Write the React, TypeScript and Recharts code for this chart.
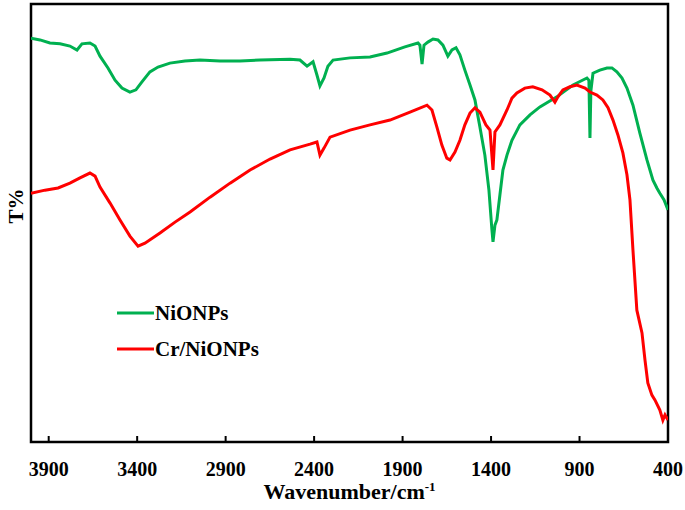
import React from "react";
import {
  LineChart,
  Line,
  XAxis,
  YAxis,
  Legend,
  ReferenceArea,
} from "recharts";

// NiONPs spectrum (wavenumber cm-1, transmittance %)
const niWavenumber = [
  4000, 3949, 3893, 3836, 3780, 3740, 3712, 3667, 3638, 3610, 3565, 3525, 3486,
  3441, 3407, 3373, 3328, 3282, 3215, 3130, 3045, 2932, 2819, 2706, 2536, 2480,
  2440, 2406, 2384, 2367, 2344, 2322, 2293, 2197, 2084, 1988, 1887, 1813, 1802,
  1790, 1779, 1757, 1728, 1700, 1672, 1644, 1621, 1598, 1576, 1548, 1519, 1491,
  1463, 1435, 1412, 1395, 1389, 1378, 1367, 1350, 1333, 1310, 1282, 1237, 1180,
  1124, 1028, 937, 858, 847, 841, 836, 824, 785, 745, 717, 689, 660, 632, 598,
  559, 519, 485, 463, 446, 423, 400,
];
const niT = [
  92.2, 91.8, 91.1, 90.9, 90.4, 89.5, 90.9, 91.1, 90.4, 88.1, 85.4, 82.6, 80.8,
  79.9, 80.4, 82.2, 84.5, 85.6, 86.5, 87.0, 87.2, 87.0, 87.0, 87.2, 87.4, 87.2,
  85.8, 86.8, 83.8, 81.3, 83.1, 85.8, 87.2, 87.7, 87.9, 88.8, 90.2, 91.1, 90.6,
  86.3, 90.6, 91.3, 92.0, 91.8, 90.6, 88.1, 89.5, 90.0, 88.4, 84.9, 81.5, 78.1,
  71.9, 65.5, 57.5, 48.4, 45.7, 49.5, 50.7, 56.4, 62.1, 65.5, 68.9, 72.4, 74.7,
  76.5, 78.8, 81.5, 83.1, 82.6, 69.4, 80.1, 84.2, 84.9, 85.4, 85.4, 84.5, 83.1,
  80.8, 76.9, 70.5, 64.4, 59.8, 58.0, 56.8, 55.3, 53.0,
];

// Cr/NiONPs spectrum
const crWavenumber = [
  4000, 3921, 3847, 3780, 3723, 3667, 3638, 3610, 3554, 3497, 3441, 3395, 3356,
  3271, 3186, 3101, 2988, 2875, 2762, 2649, 2536, 2423, 2384, 2367, 2344, 2310,
  2197, 2084, 1971, 1858, 1762, 1734, 1706, 1678, 1650, 1632, 1604, 1576, 1548,
  1519, 1491, 1463, 1429, 1406, 1389, 1378, 1350, 1310, 1282, 1254, 1209, 1164,
  1112, 1067, 1039, 1022, 994, 954, 915, 869, 841, 802, 768, 739, 711, 683, 655,
  632, 615, 598, 576, 547, 530, 514, 491, 474, 446, 429, 417, 400,
];
const crT = [
  56.8, 57.5, 58.0, 59.1, 60.3, 61.4, 60.7, 58.2, 54.6, 50.7, 47.0, 44.7, 45.4,
  47.7, 50.2, 52.5, 55.9, 59.1, 62.1, 64.6, 66.7, 68.0, 68.5, 65.5, 67.1, 69.6,
  71.2, 72.4, 73.5, 75.3, 76.9, 75.8, 71.9, 67.8, 64.8, 64.4, 66.2, 68.9, 72.4,
  75.1, 76.3, 75.3, 72.4, 71.2, 62.1, 70.8, 72.4, 75.8, 78.5, 79.7, 80.8, 81.1,
  80.4, 79.2, 77.6, 78.8, 80.4, 81.1, 81.5, 80.8, 79.9, 79.2, 78.1, 76.3, 73.5,
  70.1, 66.0, 61.0, 55.3, 43.8, 30.1, 24.9, 18.7, 13.5, 10.7, 9.6, 7.3, 5.0,
  6.2, 5.0,
];

const xTicks = [3900, 3400, 2900, 2400, 1900, 1400, 900, 400];

const niData = niWavenumber.map((wn, i) => ({ wn, t: niT[i] }));
const crData = crWavenumber.map((wn, i) => ({ wn, t: crT[i] }));

const FONT = '"Liberation Serif", "Times New Roman", serif';
const GREEN = "#00b050";
const RED = "#ff0000";

const XTick = ({ x, y, payload }: any) => (
  <g>
    <line x1={x} y1={y} x2={x} y2={y - 6} stroke="#000" strokeWidth={2} />
    <text
      x={x}
      y={y + 34}
      textAnchor="middle"
      fontFamily={FONT}
      fontWeight="bold"
      fontSize={20}
      fill="#000"
    >
      {payload.value}
    </text>
  </g>
);

const XTitle = ({ viewBox }: any) => {
  const cx = viewBox.x + viewBox.width / 2;
  return (
    <text
      x={cx}
      y={viewBox.y + 57}
      textAnchor="middle"
      fontFamily={FONT}
      fontWeight="bold"
      fontSize={22}
      fill="#000"
    >
      Wavenumber/cm
      <tspan dy={-8} fontSize={13}>
        -1
      </tspan>
    </text>
  );
};

const YTitle = ({ viewBox }: any) => {
  const x = viewBox.x + 16;
  const y = 206;
  return (
    <text
      x={x}
      y={y}
      transform={`rotate(-90, ${x}, ${y})`}
      textAnchor="middle"
      dominantBaseline="central"
      fontFamily={FONT}
      fontWeight="bold"
      fontSize={21}
      fill="#000"
    >
      T%
    </text>
  );
};

const legendItems = [
  { label: "NiONPs", color: GREEN },
  { label: "Cr/NiONPs", color: RED },
];

const LegendBox = () => (
  <div>
    {legendItems.map((item) => (
      <div
        key={item.label}
        style={{ display: "flex", alignItems: "center", height: 36 }}
      >
        <svg width={37} height={6}>
          <line x1={0} y1={3} x2={37} y2={3} stroke={item.color} strokeWidth={3} />
        </svg>
        <span
          style={{
            fontFamily: FONT,
            fontWeight: "bold",
            fontSize: 21,
            marginLeft: 1,
            color: "#000",
          }}
        >
          {item.label}
        </span>
      </div>
    ))}
  </div>
);

export default function App() {
  return (
    <div style={{ width: 685, height: 510, background: "#fff" }}>
      <style>{`body { margin: 0; }`}</style>
      <LineChart
        width={685}
        height={510}
        margin={{ top: 4, right: 17, bottom: 28, left: 0 }}
      >
        <XAxis
          dataKey="wn"
          type="number"
          domain={[400, 4000]}
          reversed
          ticks={xTicks}
          allowDataOverflow
          axisLine={false}
          tickLine={false}
          tickSize={0}
          tickMargin={0}
          height={40}
          tick={<XTick />}
          label={<XTitle />}
        />
        <YAxis
          type="number"
          domain={[0, 100]}
          width={31}
          tick={false}
          axisLine={false}
          tickLine={false}
          label={<YTitle />}
        />
        <ReferenceArea
          x1={400}
          x2={4000}
          y1={0}
          y2={100}
          fill="none"
          stroke="#000"
          strokeWidth={2.5}
        />
        <Legend
          layout="vertical"
          align="center"
          verticalAlign="middle"
          content={<LegendBox />}
          wrapperStyle={{ left: 117, top: 295, width: "auto" }}
        />
        <Line
          data={niData}
          dataKey="t"
          name="NiONPs"
          stroke={GREEN}
          strokeWidth={3}
          dot={false}
          isAnimationActive={false}
        />
        <Line
          data={crData}
          dataKey="t"
          name="Cr/NiONPs"
          stroke={RED}
          strokeWidth={3}
          dot={false}
          isAnimationActive={false}
        />
      </LineChart>
    </div>
  );
}
